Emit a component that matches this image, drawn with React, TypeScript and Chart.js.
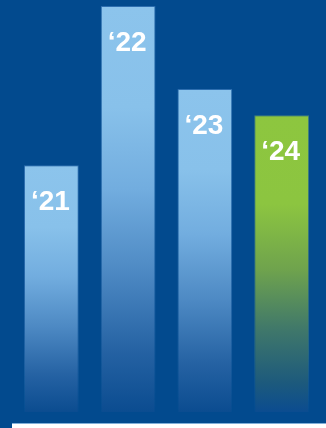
import React, { useEffect, useRef } from "react";
import { Chart, registerables } from "chart.js";

Chart.register(...registerables);

const categories = ["‘21", "‘22", "‘23", "‘24"];
const values = [60.2, 99.0, 78.8, 72.4];
const highlightIndex = 3;

const BG = "#024a8e";

const blueStops: [number, string][] = [
  [0, "#8cc4ec"],
  [0.25, "#88c1ea"],
  [0.45, "#72addf"],
  [0.65, "#4e8ac4"],
  [0.85, "#2562a3"],
  [1, "#0b4c90"],
];
const greenStops: [number, string][] = [
  [0, "#8dc63f"],
  [0.3, "#8cc540"],
  [0.52, "#6fa34d"],
  [0.72, "#40786a"],
  [0.9, "#1d5a7c"],
  [1, "#0b4c90"],
];

const labelPlugin = {
  id: "barLabels",
  afterDatasetsDraw(chart: any) {
    const ctx = chart.ctx;
    const meta = chart.getDatasetMeta(0);
    ctx.save();
    ctx.fillStyle = "#ffffff";
    ctx.font = "bold 28px 'Liberation Sans', Arial, sans-serif";
    ctx.textAlign = "center";
    ctx.textBaseline = "alphabetic";
    meta.data.forEach((el: any, i: number) => {
      ctx.fillText(categories[i], el.x - 1, el.y + 45);
    });
    ctx.restore();
  },
};

const baseLinePlugin = {
  id: "baseLine",
  afterDraw(chart: any) {
    const ctx = chart.ctx;
    ctx.save();
    ctx.fillStyle = "#ffffff";
    ctx.fillRect(12, chart.height - 4, chart.width - 12, 4);
    ctx.fillStyle = "rgba(160,200,235,0.8)";
    ctx.fillRect(12, chart.height - 5, chart.width - 12, 1);
    ctx.restore();
  },
};

export default function App() {
  const ref = useRef<HTMLCanvasElement>(null);

  useEffect(() => {
    if (!ref.current) return;
    const chart = new Chart(ref.current, {
      type: "bar",
      data: {
        labels: categories,
        datasets: [
          {
            data: values,
            backgroundColor: (c: any) => {
              const ch = c.chart;
              const ys = ch.scales?.y;
              const isGreen = c.dataIndex === highlightIndex;
              if (!ch.chartArea || !ys || c.raw == null) return isGreen ? "#8dc63f" : "#8cc4ec";
              const top = ys.getPixelForValue(c.raw);
              const bottom = ys.getPixelForValue(0);
              const g = ch.ctx.createLinearGradient(0, top, 0, bottom);
              (isGreen ? greenStops : blueStops).forEach(([o, col]) => g.addColorStop(o, col));
              return g;
            },
            borderColor: (c: any) => {
              const ch = c.chart;
              const ys = ch.scales?.y;
              const isGreen = c.dataIndex === highlightIndex;
              const solid = isGreen ? "rgba(120,170,110,0.55)" : "rgba(75,135,198,0.6)";
              if (!ch.chartArea || !ys || c.raw == null) return solid;
              const top = ys.getPixelForValue(c.raw);
              const bottom = ys.getPixelForValue(0);
              const g = ch.ctx.createLinearGradient(0, top, 0, bottom);
              g.addColorStop(0, solid);
              g.addColorStop(0.8, isGreen ? "rgba(120,170,110,0.3)" : "rgba(75,135,198,0.35)");
              g.addColorStop(1, "rgba(75,135,198,0.05)");
              return g;
            },
            borderWidth: { top: 1, left: 1, right: 1, bottom: 0 },
            borderSkipped: "bottom",
            barPercentage: 0.714,
            categoryPercentage: 1,
          },
        ],
      },
      options: {
        animation: false,
        responsive: true,
        maintainAspectRatio: false,
        layout: { padding: { left: 13, right: 6, top: 2, bottom: 16 } },
        plugins: { legend: { display: false }, tooltip: { enabled: false } },
        scales: {
          x: { display: false },
          y: { display: false, min: 0, max: 100 },
        },
      },
      plugins: [labelPlugin, baseLinePlugin],
    });
    return () => chart.destroy();
  }, []);

  return (
    <div
      style={{
        position: "fixed",
        left: 0,
        top: 0,
        width: 326,
        height: 428,
        background: BG,
      }}
    >
      <canvas ref={ref} />
    </div>
  );
}
